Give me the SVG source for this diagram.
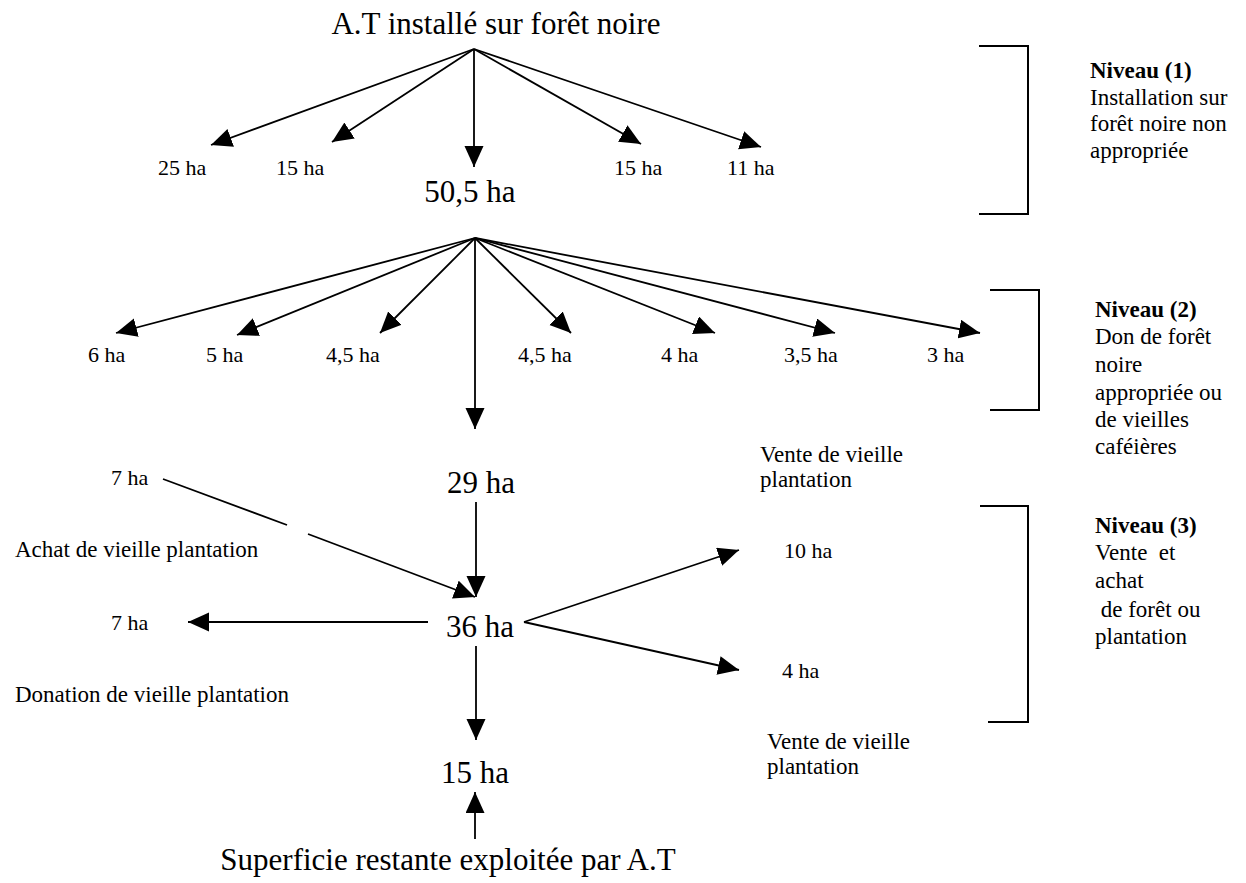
<svg xmlns="http://www.w3.org/2000/svg" width="1246" height="883" viewBox="0 0 1246 883">
<style>
text{font-family:"Liberation Serif","Times New Roman",serif;fill:#000;white-space:pre}
.big{font-size:31px}
.lab{font-size:22px}
.txt{font-size:23px}
.b{font-weight:bold}
.c{stroke:#000;stroke-width:1.8;fill:none}
.arr{marker-end:url(#ah)}
.br{stroke:#000;stroke-width:2;fill:none}
</style>
<defs>
<marker id="ah" markerUnits="userSpaceOnUse" markerWidth="22" markerHeight="20" refX="21" refY="9.5" orient="auto" viewBox="0 0 22 20">
<path d="M0,0 L21,9.5 L0,19 z" fill="#000"/>
</marker>
</defs>
<rect width="1246" height="883" fill="#fff"/>
<g id="connectors">
<line class="c arr" x1="474" y1="49" x2="211" y2="145"/>
<line class="c arr" x1="474" y1="49" x2="332" y2="142"/>
<line class="c arr" x1="474" y1="49" x2="474" y2="167"/>
<line class="c arr" x1="474" y1="49" x2="641" y2="144"/>
<line class="c arr" x1="474" y1="49" x2="761" y2="147"/>
<line class="c arr" x1="475" y1="238" x2="116" y2="333"/>
<line class="c arr" x1="475" y1="238" x2="237" y2="335"/>
<line class="c arr" x1="475" y1="238" x2="380" y2="333"/>
<line class="c arr" x1="475" y1="238" x2="475" y2="429"/>
<line class="c arr" x1="475" y1="238" x2="571" y2="333"/>
<line class="c arr" x1="475" y1="238" x2="715" y2="333"/>
<line class="c arr" x1="475" y1="238" x2="835" y2="333"/>
<line class="c arr" x1="475" y1="238" x2="980" y2="333"/>
<line class="c" x1="163" y1="479" x2="287" y2="525"/>
<line class="c arr" x1="308" y1="534" x2="475" y2="597"/>
<line class="c arr" x1="476" y1="502" x2="476" y2="597"/>
<line class="c arr" x1="428" y1="622" x2="188" y2="622"/>
<line class="c arr" x1="524" y1="622" x2="739" y2="550"/>
<line class="c arr" x1="524" y1="622" x2="739" y2="670"/>
<line class="c arr" x1="476" y1="646" x2="476" y2="740"/>
<line class="c arr" x1="475" y1="839" x2="475" y2="792"/>
</g>
<g id="brackets">
<polyline class="br" points="979,46 1028,46 1028,214 979,214"/>
<polyline class="br" points="990,290 1039,290 1039,410 990,410"/>
<polyline class="br" points="980,506 1028,506 1028,722 988,722"/>
</g>
<g id="n-title"><text class="big" x="496" y="34" text-anchor="middle">A.T installé sur forêt noire</text></g>
<g id="n-l1">
<text class="lab" x="158" y="175">25 ha</text>
<text class="lab" x="276" y="175">15 ha</text>
<text class="lab" x="614" y="175">15 ha</text>
<text class="lab" x="727" y="175">11 ha</text>
</g>
<g id="n-505"><text class="big" x="470" y="202" text-anchor="middle">50,5 ha</text></g>
<g id="n-l2">
<text class="lab" x="88" y="362">6 ha</text>
<text class="lab" x="206" y="362">5 ha</text>
<text class="lab" x="326" y="362">4,5 ha</text>
<text class="lab" x="518" y="362">4,5 ha</text>
<text class="lab" x="661" y="362">4 ha</text>
<text class="lab" x="784" y="362">3,5 ha</text>
<text class="lab" x="927" y="362">3 ha</text>
</g>
<g id="n-niv1">
<text class="txt b" x="1090" y="78">Niveau (1)</text>
<text class="txt" x="1090" y="105">Installation sur</text>
<text class="txt" x="1090" y="131">forêt noire non</text>
<text class="txt" x="1090" y="158">appropriée</text>
</g>
<g id="n-niv2">
<text class="txt b" x="1095" y="317">Niveau (2)</text>
<text class="txt" x="1095" y="344">Don de forêt</text>
<text class="txt" x="1095" y="372">noire</text>
<text class="txt" x="1095" y="400">appropriée ou</text>
<text class="txt" x="1095" y="427">de vieilles</text>
<text class="txt" x="1095" y="454">caféières</text>
</g>
<g id="n-niv3">
<text class="txt b" x="1095" y="533">Niveau (3)</text>
<text class="txt" x="1095" y="560">Vente  et</text>
<text class="txt" x="1095" y="588">achat</text>
<text class="txt" x="1095" y="617"> de forêt ou</text>
<text class="txt" x="1095" y="644">plantation</text>
</g>
<g id="n-7a"><text class="lab" x="111" y="485">7 ha</text></g>
<g id="n-29"><text class="big" x="447" y="493">29 ha</text></g>
<g id="n-achat"><text class="txt" x="15" y="557">Achat de vieille plantation</text></g>
<g id="n-vente1">
<text class="txt" x="760" y="462">Vente de vieille</text>
<text class="txt" x="760" y="487">plantation</text>
</g>
<g id="n-10"><text class="lab" x="784" y="558">10 ha</text></g>
<g id="n-36"><text class="big" x="446" y="637">36 ha</text></g>
<g id="n-7b"><text class="lab" x="111" y="630">7 ha</text></g>
<g id="n-4"><text class="lab" x="782" y="678">4 ha</text></g>
<g id="n-donation"><text class="txt" x="15" y="702">Donation de vieille plantation</text></g>
<g id="n-vente2">
<text class="txt" x="767" y="749">Vente de vieille</text>
<text class="txt" x="767" y="774">plantation</text>
</g>
<g id="n-15"><text class="big" x="441" y="783">15 ha</text></g>
<g id="n-bottom"><text class="big" x="448" y="870" text-anchor="middle">Superficie restante exploitée par A.T</text></g>
</svg>
